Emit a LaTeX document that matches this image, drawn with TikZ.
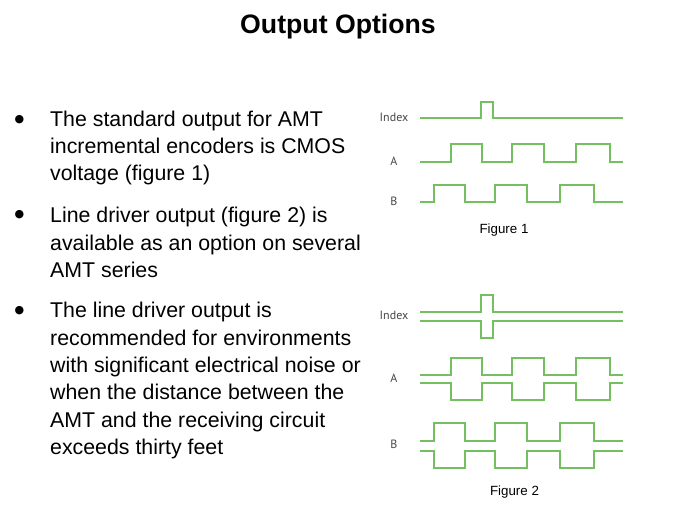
\documentclass[tikz,border=0pt]{standalone}
\usepackage{fontspec}
\setmainfont{Liberation Sans}
\newfontfamily\tagfont{PT Sans}
\newfontfamily\dotfont{DejaVu Sans}
\definecolor{wavegreen}{RGB}{116,192,96}
\definecolor{taggray}{RGB}{70,70,70}
\tikzset{
	wave/.style={wavegreen,line width=1.9pt,line join=miter},
	para/.style={anchor=north west,inner sep=0pt,align=left,font=\fontsize{21.33}{27.4}\selectfont},
	dot/.style={inner sep=0pt,font=\dotfont\fontsize{11}{12}\selectfont},
	tag/.style={inner sep=0pt,text=taggray,font=\tagfont\fontsize{12}{14}\selectfont},
	figcap/.style={inner sep=0pt,font=\fontsize{13.33}{15}\selectfont},
}
\begin{document}
\begin{tikzpicture}[x=1pt,y=-1pt]
	\useasboundingbox (0,0) rectangle (675,506);
	\node[font=\bfseries\fontsize{26.67}{30}\selectfont,inner sep=0pt] (title) at (338,26.5) {Output Options};
	% bullets
	\node[dot] (dota) at (19.5,119.5) {●};
	\node[dot] (dotb) at (19.5,215) {●};
	\node[dot] (dotc) at (19.5,311) {●};
	\node[para] (parta) at (50,110.5) {The standard output for AMT\\incremental encoders is CMOS\\voltage (figure 1)};
	\node[para] (partb) at (50,207) {Line driver output (figure 2) is\\available as an option on several\\AMT series};
	\node[para] (partc) at (50,302) {The line driver output is\\recommended for environments\\with significant electrical noise or\\when the distance between the\\AMT and the receiving circuit\\exceeds thirty feet};
	% figure 1
	\node[tag] (idxa) at (394,117) {Index};
	\node[tag] (siga) at (394,161) {A};
	\node[tag] (sigb) at (394,201) {B};
	\draw[wave] (420,118.3) -- (480.7,118.3) -- (480.7,101.7) -- (492.7,101.7) -- (492.7,118.3) -- (623,118.3);
	\draw[wave] (420,161.7) -- (451,161.7) -- (451,144.3) -- (482.3,144.3) -- (482.3,161.7) -- (512,161.7) -- (512,144.3) -- (544.3,144.3) -- (544.3,161.7) -- (576,161.7) -- (576,144.3) -- (609.7,144.3) -- (609.7,161.7) -- (623,161.7);
	\draw[wave] (420,202) -- (434,202) -- (434,185) -- (465.3,185) -- (465.3,202) -- (495,202) -- (495,185) -- (527,185) -- (527,202) -- (559.7,202) -- (559.7,185) -- (593.7,185) -- (593.7,202) -- (623,202);
	\node[figcap] (figa) at (504,230) {Figure 1};
	% figure 2
	\node[tag] (idxb) at (394,315.5) {Index};
	\node[tag] (sigc) at (394,378) {A};
	\node[tag] (sigd) at (394,444.5) {B};
	\draw[wave] (420,311.7) -- (480.7,311.7) -- (480.7,295) -- (492.7,295) -- (492.7,311.7) -- (623,311.7);
	\draw[wave] (420,321) -- (480.7,321) -- (480.7,337.7) -- (492.7,337.7) -- (492.7,321) -- (623,321);
	\draw[wave] (420,375.3) -- (451,375.3) -- (451,358) -- (482.3,358) -- (482.3,375.3) -- (512,375.3) -- (512,358) -- (544.3,358) -- (544.3,375.3) -- (576,375.3) -- (576,358) -- (609.7,358) -- (609.7,375.3) -- (623,375.3);
	\draw[wave] (420,383.3) -- (451,383.3) -- (451,400) -- (482.3,400) -- (482.3,383.3) -- (512,383.3) -- (512,400) -- (544.3,400) -- (544.3,383.3) -- (576,383.3) -- (576,400) -- (609.7,400) -- (609.7,383.3) -- (623,383.3);
	\draw[wave] (420,440.7) -- (434,440.7) -- (434,423.3) -- (465.3,423.3) -- (465.3,440.7) -- (495,440.7) -- (495,423.3) -- (527,423.3) -- (527,440.7) -- (559.7,440.7) -- (559.7,423.3) -- (593.7,423.3) -- (593.7,440.7) -- (623,440.7);
	\draw[wave] (420,450.7) -- (434,450.7) -- (434,468) -- (465.3,468) -- (465.3,450.7) -- (495,450.7) -- (495,468) -- (527,468) -- (527,450.7) -- (559.7,450.7) -- (559.7,468) -- (593.7,468) -- (593.7,450.7) -- (623,450.7);
	\node[figcap] (figb) at (514.5,492) {Figure 2};
\end{tikzpicture}
\end{document}
